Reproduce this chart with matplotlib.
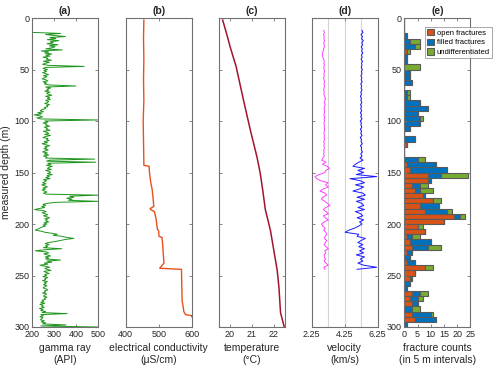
import numpy as np
import matplotlib
matplotlib.use("Agg")
import matplotlib.pyplot as plt

plt.rcParams['font.family'] = ['Liberation Sans', 'DejaVu Sans']

# (a) gamma ray, 1 m samples from 14 m to 300 m
gamma_depth = np.arange(14, 301)
gamma_api = [
    205, 330, 262, 300, 352, 281,
    308, 270, 322, 284, 296, 268, 318, 279, 305, 288,
    262, 338, 242, 276, 258, 290, 262, 281, 250, 272,
    265, 288, 252, 279, 260, 248, 276, 437, 262, 250,
    270, 255, 266, 248, 262, 275, 252, 268, 258, 246,
    263, 272, 250, 266, 256, 278, 400, 262, 284, 268,
    276, 258, 282, 266, 274, 290, 262, 280, 270, 284,
    262, 276, 270, 258, 280, 266, 272, 256, 262, 244,
    238, 252, 226, 244, 210, 236, 248, 222, 240, 500,
    258, 272, 250, 268, 262, 280, 256, 270, 264, 282,
    252, 268, 276, 258, 284, 264, 250, 272, 266, 278,
    256, 270, 246, 262, 280, 258, 268, 254, 274, 262,
    248, 270, 256, 276, 252, 268, 262, 485, 280, 266,
    490, 272, 286, 266, 292, 276, 270, 288, 262, 280,
    284, 270, 292, 268, 278, 262, 282, 252, 266, 258,
    248, 264, 244, 258, 270, 250, 262, 246, 256, 268,
    252, 264, 500, 372, 390, 358, 382, 366, 500, 305,
    268, 250, 262, 244, 258, 232, 212, 252, 264, 246,
    258, 272, 252, 266, 280, 258, 270, 262, 276, 254,
    268, 250, 262, 244, 236, 226, 215, 242, 258, 290,
    315, 296, 338, 356, 390, 352, 330, 306, 274, 260,
    278, 262, 270, 252, 335, 258, 215, 262, 276, 254,
    270, 284, 260, 276, 262, 330, 268, 290, 256, 272,
    236, 262, 280, 258, 268, 286, 254, 264, 278, 258,
    266, 250, 272, 258, 262, 248, 270, 256, 264, 252,
    268, 258, 250, 264, 272, 256, 262, 248, 266, 258,
    252, 268, 256, 262, 246, 254, 240, 258, 236, 250,
    244, 256, 234, 250, 240, 262, 246, 360, 240, 252,
    236, 250, 244, 238, 256, 242, 262, 248, 355, 240,
    500,
]

# (b) electrical conductivity
cond_depth = [2, 20, 40, 60, 80, 100, 120, 140, 143, 144, 150, 155, 160, 166, 175,
              183, 185, 186, 188, 195, 205, 207, 212, 213, 220, 230, 238, 241, 243,
              244, 260, 275, 280, 285, 287, 288, 289, 290]
cond_val = [455, 454, 455, 454, 455, 453, 454, 455, 455, 471, 472, 474, 476, 480, 483,
            485, 474, 476, 487, 492, 496, 500, 501, 510, 512, 514, 516, 508, 503,
            569, 570, 571, 574, 576, 580, 581, 600, 600]

# (c) temperature
temp_depth = [2, 16, 28, 47, 80, 109, 135, 151, 167, 186, 206, 245, 262, 286, 300]
temp_val = [19.68, 19.87, 20.02, 20.29, 20.63, 20.94, 21.24, 21.39, 21.50, 21.62,
            21.85, 22.16, 22.24, 22.31, 22.48]

# (d) velocity, 2 m samples from 12 m to 244 m
vel_depth = np.arange(12, 246, 2)
vel_s = [
    2.98, 3.02, 2.97, 3.01, 2.99, 3.03, 2.98, 3.00, 3.02, 2.97,
    2.95, 2.90, 2.89, 2.93, 2.98, 3.01, 2.99, 3.02, 2.98, 3.00,
    3.03, 2.99, 3.01, 2.97, 3.00, 3.04, 2.99, 3.02, 3.00, 2.98,
    3.01, 2.99, 3.03, 3.08, 3.05, 3.02, 3.06, 3.03, 3.00, 3.04,
    3.02, 2.99, 3.05, 3.01, 3.03, 2.99, 3.02, 3.00, 3.04, 3.01,
    2.99, 3.02, 3.00, 3.03, 2.98, 3.01, 2.99, 3.02, 2.98, 3.00,
    2.97, 3.01, 2.92, 2.86, 3.12, 2.90, 3.18, 3.34, 3.10, 3.05,
    2.70, 2.45, 2.55, 2.80, 3.24, 3.10, 3.26, 2.95, 2.75, 3.05,
    3.16, 2.90, 2.85, 3.05, 3.20, 3.36, 3.10, 2.96, 3.12, 3.26,
    2.96, 3.08, 3.26, 3.00, 2.85, 2.92, 3.06, 2.98, 3.10, 3.16,
    3.06, 3.02, 3.16, 3.08, 3.00, 3.12, 3.26, 3.04, 3.10, 3.00,
    3.02, 3.08, 3.00, 3.12, 3.25, 2.98, 3.05,
]
vel_p = [
    5.30, 5.36, 5.24, 5.33, 5.27, 5.38, 5.28, 5.34, 5.25, 5.32,
    5.28, 5.35, 5.26, 5.31, 5.24, 5.33, 5.27, 5.30, 5.25, 5.32,
    5.26, 5.30, 5.23, 5.29, 5.25, 5.31, 5.22, 5.28, 5.24, 5.30,
    5.22, 5.27, 5.20, 5.26, 5.23, 5.29, 5.21, 5.26, 5.22, 5.28,
    5.20, 5.27, 5.22, 5.30, 5.19, 5.26, 5.23, 5.29, 5.20, 5.27,
    5.22, 5.30, 5.19, 5.27, 5.24, 5.32, 5.20, 5.28, 5.25, 5.33,
    5.22, 5.30, 5.18, 5.36, 5.10, 4.90, 4.75, 5.45, 5.05, 5.40,
    4.95, 6.19, 4.57, 5.20, 5.45, 4.90, 5.40, 5.15, 4.75, 5.35,
    5.50, 5.00, 5.45, 4.96, 5.30, 5.40, 5.05, 5.45, 4.90, 5.20,
    5.35, 5.00, 5.40, 5.15, 5.30, 5.10, 4.85, 4.50, 4.27, 5.10,
    5.00, 5.50, 5.25, 5.05, 5.35, 5.10, 5.45, 5.15, 5.40, 4.95,
    5.45, 5.20, 5.35, 5.05, 5.40, 6.19, 5.00,
]

# (e) fracture counts in 5 m bins (0-5, 5-10, ... 295-300)
bin_top = np.arange(0, 300, 5)
open_frac = [0, 0, 0, 0, 0, 0, 1, 0, 0, 0,
             0, 0, 0, 0, 0, 0, 0, 0, 0, 0,
             0, 0, 0, 0, 1, 0, 0, 0, 1, 2,
             9, 9, 3, 4, 7, 11, 6, 8, 19, 15,
             5, 8, 1, 2, 3, 1, 0, 1, 8, 4,
             2, 0, 0, 3, 2, 3, 0, 3, 4, 0]
filled_frac = [0, 0, 0, 1, 2, 4, 0, 1, 1, 0,
               2, 2, 3, 0, 1, 1, 6, 9, 5, 6,
               6, 2, 0, 4, 0, 0, 0, 5, 11, 14,
               5, 1, 3, 2, 1, 0, 7, 8, 2, 0,
               0, 0, 2, 8, 6, 2, 2, 3, 0, 0,
               1, 2, 1, 3, 3, 2, 3, 7, 8, 1]
undiff_frac = [0, 0, 0, 0, 4, 2, 1, 0, 0, 6,
               0, 0, 0, 0, 1, 1, 0, 0, 0, 1,
               0, 0, 0, 0, 0, 0, 0, 3, 0, 0,
               10, 0, 3, 5, 0, 3, 0, 2, 2, 0,
               2, 0, 3, 0, 5, 0, 0, 0, 3, 0,
               0, 0, 0, 3, 2, 0, 3, 1, 0, 0]

fig = plt.figure(figsize=(5.0, 3.71), dpi=100)
lefts = [32, 125.7, 218.7, 311.7, 404.3]
axes = [fig.add_axes([l / 500, 44 / 371, 66 / 500, 309 / 371]) for l in lefts]

spine_col = '#707070'
txt_col = '#262626'
for ax in axes:
    ax.set_ylim(300, 0)
    ax.set_yticks(np.arange(0, 301, 50))
    ax.tick_params(direction='in', top=True, right=True, length=2.5, width=0.6,
                   colors=spine_col, labelcolor=txt_col, labelsize=6.5, pad=2)
    for s in ax.spines.values():
        s.set_color(spine_col)
        s.set_linewidth(0.8)

# (a)
ax = axes[0]
ax.plot(gamma_api, gamma_depth, color='#1e961e', lw=0.7)
ax.set_xlim(200, 500)
ax.set_xticks([200, 300, 400, 500])
ax.set_ylabel('measured depth (m)', fontsize=7.5, color=txt_col, labelpad=2)
ax.set_xlabel('gamma ray\n(API)', fontsize=7.5, color=txt_col, labelpad=3)

# (b)
ax = axes[1]
ax.plot(cond_val, cond_depth, color='#e8501c', lw=1.0)
ax.set_xlim(400, 600)
ax.set_xticks([400, 500, 600])
ax.set_yticklabels([])
ax.set_xlabel('electrical conductivity\n(\u03bcS/cm)', fontsize=7.5, color=txt_col, labelpad=3)

# (c)
ax = axes[2]
ax.plot(temp_val, temp_depth, color='#a2142f', lw=1.1)
ax.set_xlim(19.5, 22.5)
ax.set_xticks([20, 21, 22])
ax.set_yticklabels([])
ax.set_xlabel('temperature\n(\u00b0C)', fontsize=7.5, color=txt_col, labelpad=3)

# (d)
ax = axes[3]
for g in [3.25, 4.25, 5.25]:
    ax.axvline(g, color='#d4d4d4', lw=0.8, zorder=0)
ax.plot(vel_s, vel_depth, color='#ff40ff', lw=0.7)
ax.plot(vel_p, vel_depth, color='#1a1aff', lw=0.7)
ax.set_xlim(2.25, 6.25)
ax.set_xticks([2.25, 4.25, 6.25])
ax.set_xticklabels(['2.25', '4.25', '6.25'])
ax.set_yticklabels([])
ax.set_xlabel('velocity\n(km/s)', fontsize=7.5, color=txt_col, labelpad=3)

# (e)
ax = axes[4]
centers = bin_top + 2.5
o = np.array(open_frac)
f = np.array(filled_frac)
u = np.array(undiff_frac)
kw = dict(height=5, edgecolor='#5a5a5a', linewidth=0.8)
ax.barh(centers, o, color='#d95319', label='open fractures', **kw)
ax.barh(centers, f, left=o, color='#0072bd', label='filled fractures', **kw)
ax.barh(centers, u, left=o + f, color='#77ac30', label='undifferentiated', **kw)
ax.set_xlim(0, 25)
ax.set_xticks([0, 5, 10, 15, 20, 25])
ax.set_xlabel('fracture counts\n(in 5 m intervals)', fontsize=7.5, color=txt_col, labelpad=3)
leg = ax.legend(loc='upper right', bbox_to_anchor=(1.335, 0.972), fontsize=5.5,
                frameon=True, fancybox=False, handlelength=0.9, handleheight=0.9,
                handletextpad=0.4, labelspacing=0.25, borderpad=0.3, borderaxespad=0)
leg.get_frame().set_edgecolor('#808080')
leg.get_frame().set_linewidth(0.6)

for ax, t in zip(axes, ['(a)', '(b)', '(c)', '(d)', '(e)']):
    ax.set_title(t, fontsize=7.5, fontweight='bold', color=txt_col, pad=3)

fig.savefig('out.png', dpi=100)
